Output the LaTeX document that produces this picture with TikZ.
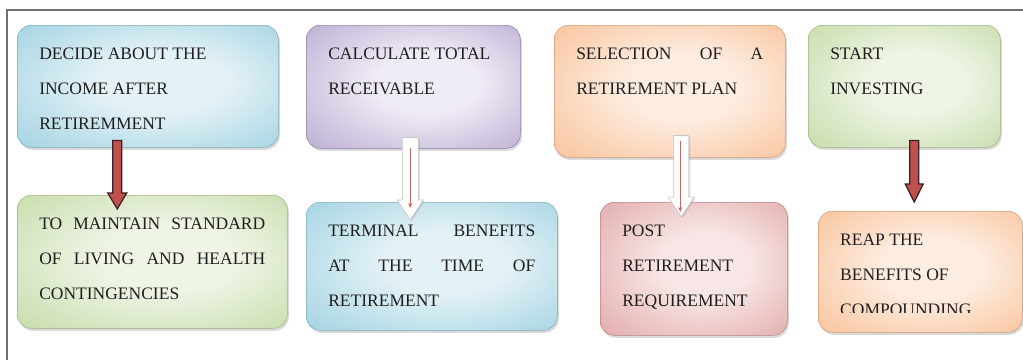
\documentclass[tikz,border=0pt]{standalone}
\usepackage{fontspec}
\setmainfont{Liberation Serif}
\usetikzlibrary{calc,shadows,arrows.meta}

\definecolor{skyout}{HTML}{8CC8DA}
\definecolor{skyin}{HTML}{E4F2F7}
\definecolor{lilacout}{HTML}{A898C6}
\definecolor{lilacin}{HTML}{F0ECF6}
\definecolor{peachout}{HTML}{F8B483}
\definecolor{peachin}{HTML}{FDEDE1}
\definecolor{sageout}{HTML}{BAD396}
\definecolor{sagein}{HTML}{EFF5E6}
\definecolor{roseout}{HTML}{DB9696}
\definecolor{rosein}{HTML}{F8E6E6}
\definecolor{arrowred}{HTML}{C0504D}
\definecolor{arrowrim}{HTML}{3B2121}
\definecolor{framegray}{HTML}{707070}

% radial fill that keeps the light part wide
\makeatletter
\pgfdeclareradialshading[tikz@radial@outer,tikz@radial@inner]{softradial}{\pgfpoint{4bp}{2bp}}%
  {color(0bp)=(tikz@radial@inner); color(12bp)=(tikz@radial@inner);
   color(46bp)=(tikz@radial@outer); color(50bp)=(tikz@radial@outer)}
\makeatother

% text of a step: fixed box, lines from the top
\newcommand{\steptext}[3]{\parbox[c][\dimexpr#2-20pt][t]{\dimexpr#1-44pt}{\raggedright\strut#3}}
% a line spread to the full width
\newcommand{\fullline}[1]{\makebox[\linewidth][s]{#1}}
% downward block arrow: [style]{start}{tip}{half shaft}{half head}{head length}
\newcommand{\blockarrow}[6][]{%
  \path[#1] let \p1=(#2), \p2=(#3) in
    (\x1-#4,\y1) -- (\x1+#4,\y1) -- (\x1+#4,\y2+#6) -- (\x1+#5,\y2+#6)
    -- (\x1,\y2) -- (\x1-#5,\y2+#6) -- (\x1-#4,\y2+#6) -- cycle;}

\begin{document}
\begin{tikzpicture}[x=1pt,y=-1pt,>=Stealth]
  \tikzstyle{stepbox}=[rounded corners=14pt,inner xsep=22pt,inner ysep=10pt,anchor=north west,
    font=\fontsize{17.5}{35}\selectfont,text=black!88,line width=0.5pt,
    drop shadow={shadow xshift=1.5pt,shadow yshift=-2.5pt,opacity=0.3}]
  \tikzstyle{sky}=[stepbox,inner color=skyin,outer color=skyout,shading=softradial,draw=skyout!85!black]
  \tikzstyle{lilac}=[stepbox,inner color=lilacin,outer color=lilacout,shading=softradial,draw=lilacout!85!black]
  \tikzstyle{peach}=[stepbox,inner color=peachin,outer color=peachout,shading=softradial,draw=peachout!85!black]
  \tikzstyle{sage}=[stepbox,inner color=sagein,outer color=sageout,shading=softradial,draw=sageout!85!black]
  \tikzstyle{rose}=[stepbox,inner color=rosein,outer color=roseout,shading=softradial,draw=roseout!85!black]
  \tikzstyle{steplabel}=[inner xsep=22pt,inner ysep=10pt,anchor=north west,
    font=\fontsize{17.5}{35}\selectfont,text=black!88]
  \tikzstyle{redblock}=[fill=arrowred,draw=arrowrim,line width=1.2pt]
  \tikzstyle{whiteblock}=[fill=white,draw=black!22,line width=0.7pt,
    drop shadow={shadow xshift=1.5pt,shadow yshift=-1pt,opacity=0.25}]
  \tikzstyle{innerline}=[arrowred!85,line width=0.8pt,->,>={Stealth[length=5pt,width=4pt]}]

  \useasboundingbox (0,0) rectangle (1023,360);
  \draw[framegray,line width=1.2pt] (7,360) -- (7,10) -- (1023,10);

  % top row
  \node[sky] (b1) at (17,25) {\steptext{261pt}{122pt}{DECIDE ABOUT THE\\INCOME AFTER\\RETIREMMENT}};
  \node[lilac] (b2) at (306,25) {\steptext{214pt}{123pt}{CALCULATE TOTAL\\RECEIVABLE}};
  \node[peach] (b3) at (554,25) {\steptext{231pt}{132pt}{\fullline{SELECTION OF A}\\RETIREMENT PLAN}};
  \node[sage] (b4) at (808,25) {\steptext{192pt}{122pt}{START\\INVESTING}};

  % bottom row
  \node[sage] (b5) at (17,195) {\steptext{270pt}{133pt}{\fullline{TO MAINTAIN STANDARD}\\\fullline{OF LIVING AND HEALTH}\\CONTINGENCIES}};
  \node[sky] (b6) at (306,202) {\steptext{251pt}{128pt}{\fullline{TERMINAL BENEFITS}\\\fullline{AT THE TIME OF}\\RETIREMENT}};
  \node[rose] (b7) at (600,202) {\steptext{187pt}{133pt}{POST\\RETIREMENT\\REQUIREMENT}};
  \node[peach] (b8) at (818,211) {\steptext{204pt}{121pt}{}};
  \begin{scope}
    \clip (b8.north west) rectangle ([yshift=20pt]b8.south east);
    \node[steplabel] (t8) at (b8.north west) {\steptext{204pt}{121pt}{REAP THE\\BENEFITS OF\\COMPOUNDING}};
  \end{scope}

  % arrows between the rows
  \blockarrow[redblock]{[xshift=-30.5pt,yshift=7pt]b1.south}{[yshift=-14pt]b5.north}{4.5pt}{9.5pt}{16pt}
  \blockarrow[whiteblock]{[xshift=-3pt,yshift=11pt]b2.south}{[yshift=-18pt]b6.north}{8pt}{13pt}{20pt}
  \blockarrow[whiteblock]{[xshift=11.5pt,yshift=22pt]b3.south}{[yshift=-15pt]b7.north}{7.5pt}{13pt}{20pt}
  \blockarrow[redblock]{[xshift=10pt,yshift=7pt]b4.south}{[yshift=9pt]b8.north}{4.5pt}{9pt}{18pt}

  \coordinate (l2s) at ([xshift=-3pt,yshift=1pt]b2.south);
  \coordinate (l2e) at ([yshift=-6pt]b6.north);
  \draw[innerline] (l2s) -- (l2s |- l2e);
  \coordinate (l3s) at ([xshift=10.5pt,yshift=17pt]b3.south);
  \coordinate (l3e) at ([yshift=-10pt]b7.north);
  \draw[innerline] (l3s) -- (l3s |- l3e);
\end{tikzpicture}
\end{document}
